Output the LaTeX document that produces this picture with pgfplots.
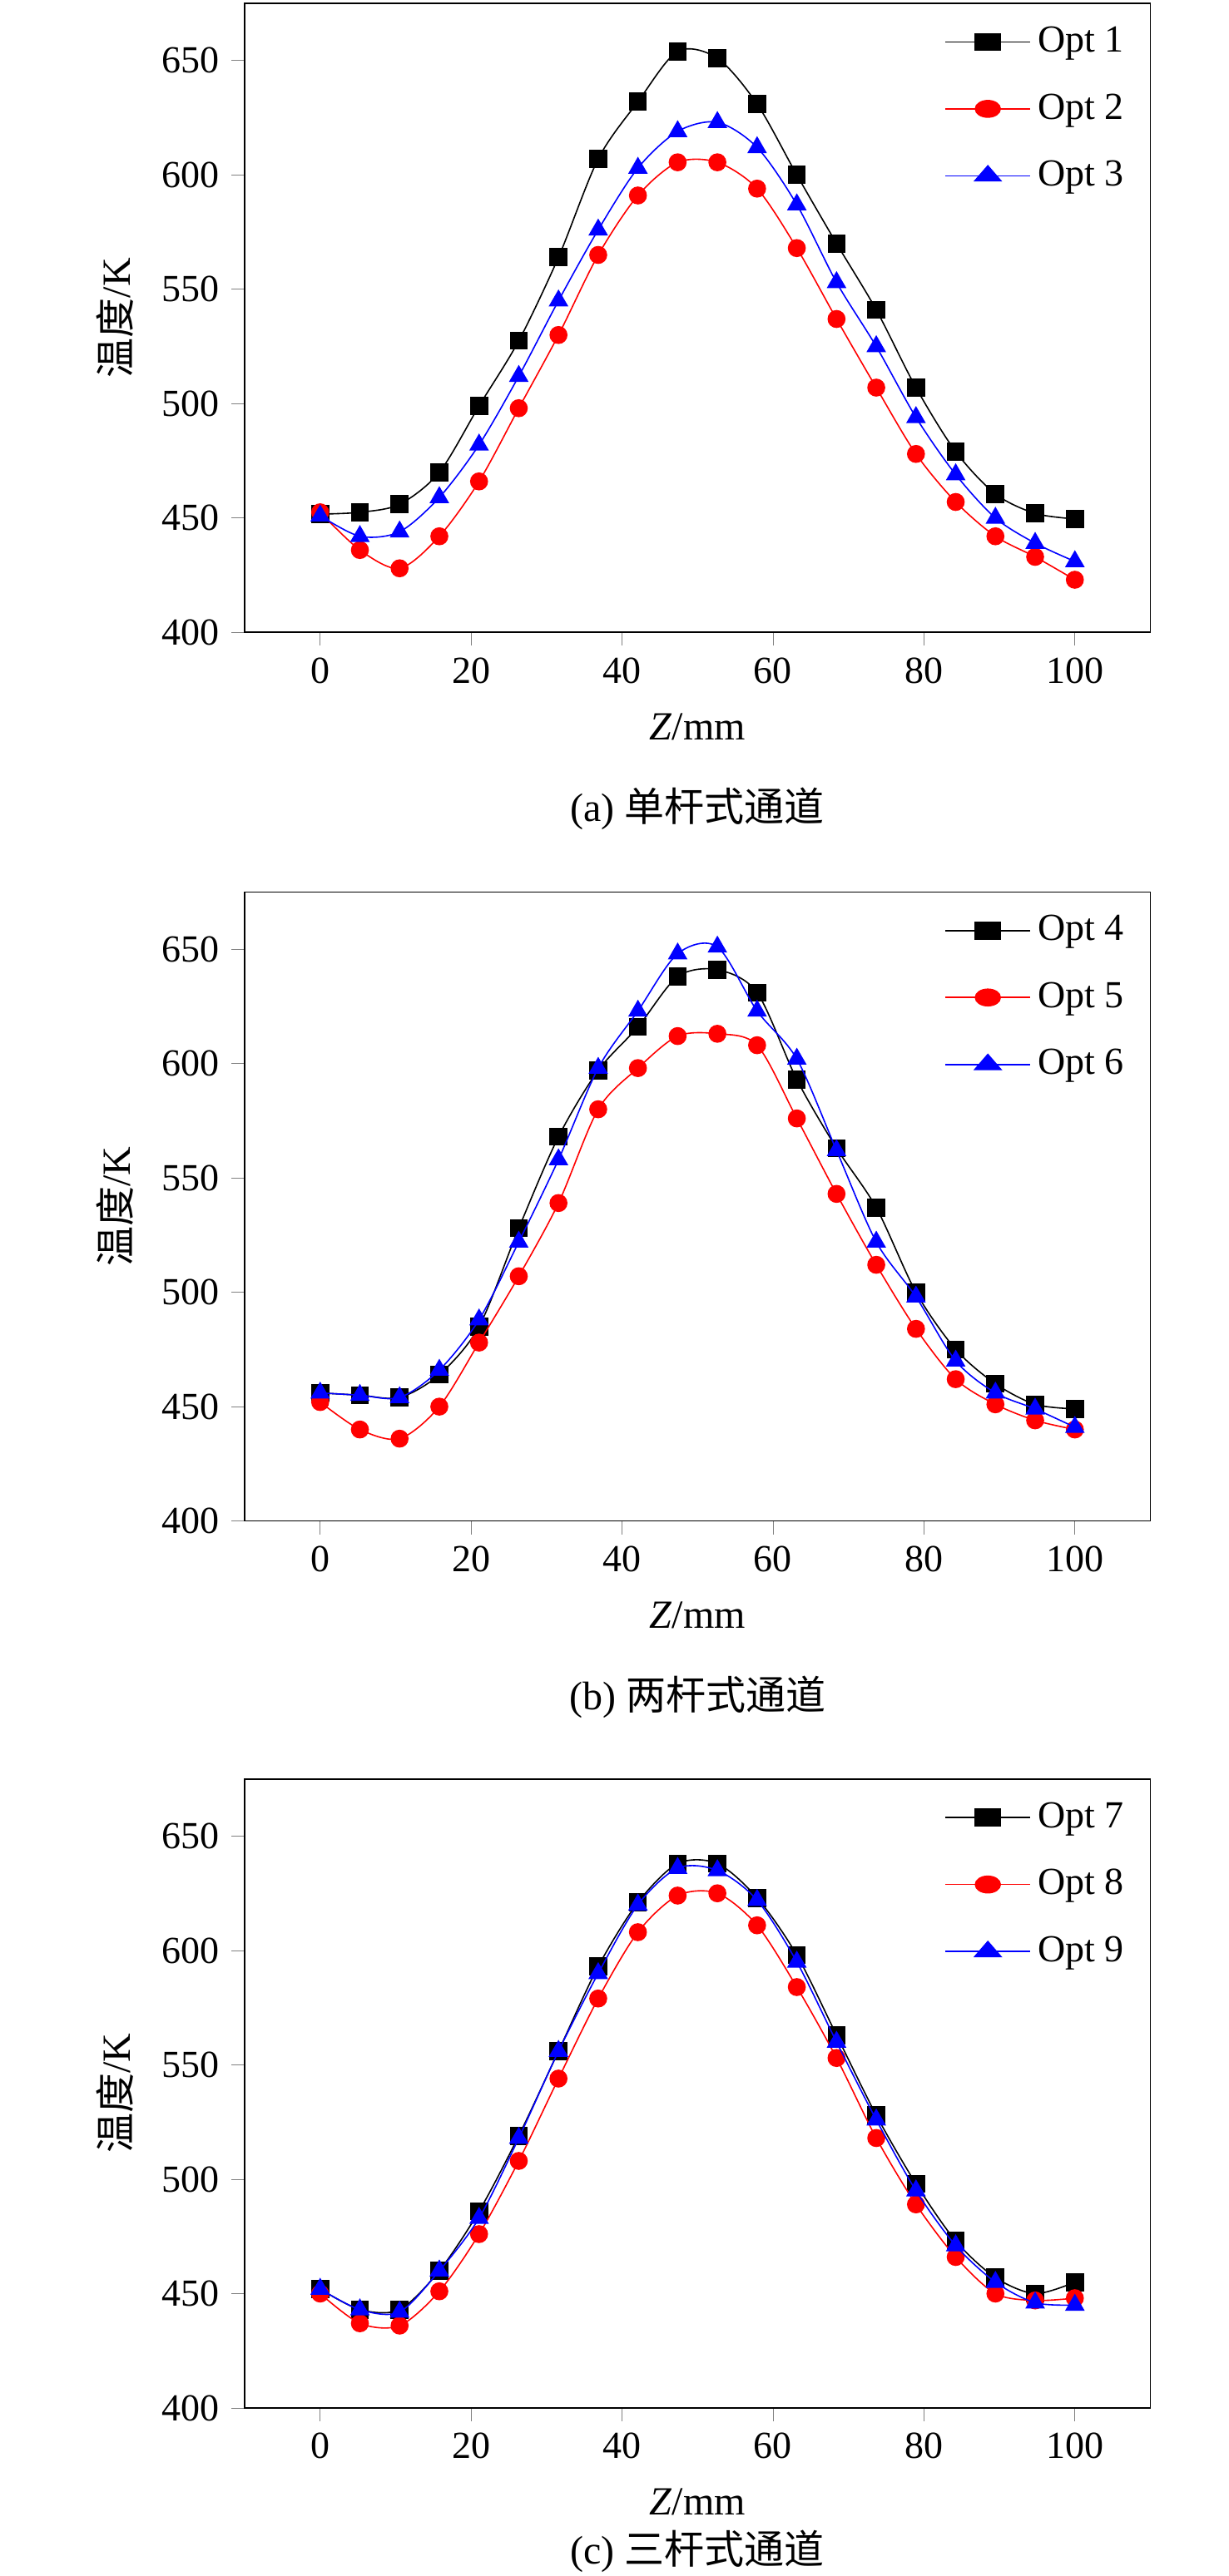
\documentclass[border=0pt]{standalone}
\usepackage{pgfplots}
\pgfplotsset{compat=1.18}
\usepackage{fontspec}
\setmainfont{Liberation Serif}
\newfontfamily\cjk{Noto Sans CJK SC}
\pgfplotsset{
  myax/.style={scale only axis, width=272pt, height=189pt,
    xmin=-10, xmax=110, ymin=400, ymax=675,
    xtick={0,20,...,100}, ytick={400,450,...,650},
    tick align=outside, xtick pos=bottom, ytick pos=left,
    major tick length=4pt, clip mode=individual,
    tick label style={font=\fontsize{11.5}{13}\selectfont},
    /pgf/number format/assume math mode=true,
    label style={font=\fontsize{12}{14}\selectfont},
    xlabel={\textit{Z}/mm}, ylabel={{\cjk 温度}/K},
    ylabel style={at={(-0.11,0.5)}},
    xlabel style={at={(0.5,-0.11)}},
    legend style={draw=none, fill=none, at={(0.99,0.985)}, anchor=north east,
      font=\fontsize{11.5}{13}\selectfont, row sep=7pt},
    legend cell align=left,
    legend image post style={xscale=1.5},
    every axis plot/.append style={smooth, thin, mark size=2.5pt},
  },
  s1/.style={black, mark=square*, mark options={fill=black}},
  s2/.style={red, mark=*, mark options={fill=red}},
  s3/.style={blue, mark=triangle*, mark options={fill=blue}, mark size=3pt},
}
\pgfplotstableread{
x a1 a2 a3 b1 b2 b3 c1 c2 c3
0      451.7 452.5 451 456 452 456 452 450 452
5.263  452.5 436 442 455 440 455 443 437 443
10.526 456 428 444 454 436 454 443 436 442
15.789 470 442 459 464 450 466 460 451 460
21.053 499 466 482 485 478 488 486 476 483
26.316 527.5 498 512 528 507 522 519 508 518
31.579 564 530 545 568 539 558 556 544 556
36.842 607 565 576 597 580 598 593 579 590
42.105 632 591 603 616 598 623 621 608 620
47.368 654 605.5 619 638 612 648 638 624 636
52.632 651 605.5 623 641 613 651 638 625 635
57.895 631 594 612 631 608 623 623 611 622
63.158 600 568 587 593 576 602 598 584 595
68.421 570 537 553 563 543 562 563 553 560
73.684 541 507 525 537 512 522 528 518 526
78.947 507 478 494 500 484 498 498 489 495
84.211 479 457 469 475 462 470 473 466 471
89.474 460.5 442 450 460 451 456 457 450 455
94.737 452 433 439 451 444 449 450 447 446
100    449.6 423 431 449 440 441 455 448 445
}\data
\begin{document}
\begin{tikzpicture}
\path[use as bounding box] (-73.5pt,1pt) rectangle (295.5pt,-773pt);
\begin{axis}[myax, at={(0,0)}, anchor=north west]
\addplot[s1] table[x=x,y=a1]{\data}; \addlegendentry{Opt 1}
\addplot[s2] table[x=x,y=a2]{\data}; \addlegendentry{Opt 2}
\addplot[s3] table[x=x,y=a3]{\data}; \addlegendentry{Opt 3}
\node[font=\fontsize{12}{14}\selectfont] at ([yshift=-53pt]rel axis cs:0.5,0) {(a) {\cjk 单杆式通道}};
\end{axis}
\begin{axis}[myax, at={(0,-267pt)}, anchor=north west]
\addplot[s1] table[x=x,y=b1]{\data}; \addlegendentry{Opt 4}
\addplot[s2] table[x=x,y=b2]{\data}; \addlegendentry{Opt 5}
\addplot[s3] table[x=x,y=b3]{\data}; \addlegendentry{Opt 6}
\node[font=\fontsize{12}{14}\selectfont] at ([yshift=-53pt]rel axis cs:0.5,0) {(b) {\cjk 两杆式通道}};
\end{axis}
\begin{axis}[myax, at={(0,-533.5pt)}, anchor=north west]
\addplot[s1] table[x=x,y=c1]{\data}; \addlegendentry{Opt 7}
\addplot[s2] table[x=x,y=c2]{\data}; \addlegendentry{Opt 8}
\addplot[s3] table[x=x,y=c3]{\data}; \addlegendentry{Opt 9}
\node[font=\fontsize{12}{14}\selectfont] at ([yshift=-43pt]rel axis cs:0.5,0) {(c) {\cjk 三杆式通道}};
\end{axis}
\end{tikzpicture}
\end{document}
